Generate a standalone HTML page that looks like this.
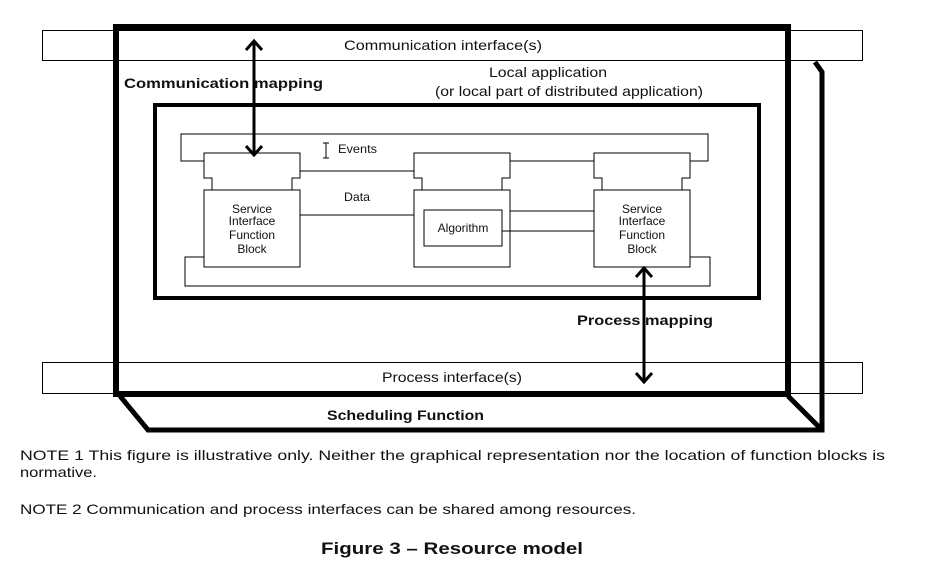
<!DOCTYPE html>
<html><head><meta charset="utf-8"><style>
html,body{margin:0;padding:0;background:#fff;}
svg{display:block;}
text{font-family:"Liberation Sans",Arial,sans-serif;fill:#111;}
</style></head><body>
<svg width="932" height="578" viewBox="0 0 932 578" xmlns="http://www.w3.org/2000/svg">
<g fill="none" stroke="#000">
  <rect x="42.5" y="30.5" width="820" height="30" stroke-width="1"/>
  <rect x="42.5" y="362.5" width="820" height="31" stroke-width="1"/>
  <rect x="116" y="27" width="672" height="367" stroke-width="6"/>
  <polyline points="815,62 822,72 822,430 148,430 120,396" stroke-width="5"/>
  <line x1="788" y1="396" x2="822" y2="430" stroke-width="5"/>
  <rect x="155" y="105" width="604" height="193" stroke-width="4"/>
  <polyline points="204,161 181,161 181,134 708,134 708,161 690,161" stroke-width="1"/>
  <polyline points="204,257 185,257 185,286 710,286 710,257 690,257" stroke-width="1"/>
  <g stroke-width="1">
    <path d="M212,190 V178 H204 V153 H300 V178 H292 V190"/>
    <path d="M422,190 V178 H414 V153 H510 V178 H502 V190"/>
    <path d="M602,190 V178 H594 V153 H690 V178 H682 V190"/>
    <rect x="204" y="190" width="96" height="77"/>
    <rect x="414" y="190" width="96" height="77"/>
    <rect x="594" y="190" width="96" height="77"/>
    <rect x="424" y="210" width="78" height="36"/>
    <line x1="300" y1="171" x2="414" y2="171"/>
    <line x1="510" y1="161" x2="594" y2="161"/>
    <line x1="300" y1="215" x2="414" y2="215"/>
    <line x1="510" y1="211" x2="594" y2="211"/>
    <line x1="502" y1="231" x2="594" y2="231"/>
    <path d="M326,143 V158 M323,143 H329 M323,158 H329"/>
  </g>
  <line x1="254" y1="42" x2="254" y2="155" stroke-width="3"/>
  <polyline points="246,50 254,41 262,50" stroke-width="3"/>
  <polyline points="246,146 254,155 262,146" stroke-width="3"/>
  <line x1="644" y1="268" x2="644" y2="382" stroke-width="3"/>
  <polyline points="636,277 644,268 652,277" stroke-width="3"/>
  <polyline points="636,373 644,382 652,373" stroke-width="3"/>
</g>
<g font-size="13">
  <text x="344" y="50" font-size="14" textLength="198" lengthAdjust="spacingAndGlyphs">Communication  interface(s)</text>
  <text x="382" y="382" font-size="14" textLength="140" lengthAdjust="spacingAndGlyphs">Process interface(s)</text>
  <text x="124" y="88" font-weight="bold" font-size="14" textLength="199" lengthAdjust="spacingAndGlyphs">Communication  mapping</text>
  <text x="489" y="77" font-size="14" textLength="118" lengthAdjust="spacingAndGlyphs">Local application</text>
  <text x="435" y="96" font-size="14" textLength="268" lengthAdjust="spacingAndGlyphs">(or local part of distributed application)</text>
  <text x="338" y="153" font-size="12" textLength="39" lengthAdjust="spacingAndGlyphs">Events</text>
  <text x="344" y="201" font-size="12" textLength="26" lengthAdjust="spacingAndGlyphs">Data</text>
  <text x="252" y="213" text-anchor="middle" font-size="12">Service</text>
  <text x="252" y="225" text-anchor="middle" font-size="12">Interface</text>
  <text x="252" y="239" text-anchor="middle" font-size="12">Function</text>
  <text x="252" y="253" text-anchor="middle" font-size="12">Block</text>
  <text x="642" y="213" text-anchor="middle" font-size="12">Service</text>
  <text x="642" y="225" text-anchor="middle" font-size="12">Interface</text>
  <text x="642" y="239" text-anchor="middle" font-size="12">Function</text>
  <text x="642" y="253" text-anchor="middle" font-size="12">Block</text>
  <text x="463" y="232" text-anchor="middle" font-size="12">Algorithm</text>
  <text x="577" y="325" font-weight="bold" font-size="14" textLength="136" lengthAdjust="spacingAndGlyphs">Process  mapping</text>
  <text x="327" y="420" font-weight="bold" font-size="14" textLength="157" lengthAdjust="spacingAndGlyphs">Scheduling Function</text>
</g>
<g font-size="14">
  <text x="20" y="460" textLength="865" lengthAdjust="spacingAndGlyphs">NOTE 1   This figure is illustrative only. Neither the graphical representation nor the location of function blocks is</text>
  <text x="20" y="477" textLength="77" lengthAdjust="spacingAndGlyphs">normative.</text>
  <text x="20" y="514" textLength="616" lengthAdjust="spacingAndGlyphs">NOTE 2   Communication and process interfaces can be shared among resources.</text>
  <text x="321" y="554" font-weight="bold" font-size="17" textLength="262" lengthAdjust="spacingAndGlyphs">Figure 3 – Resource model</text>
</g>
</svg>
</body></html>
